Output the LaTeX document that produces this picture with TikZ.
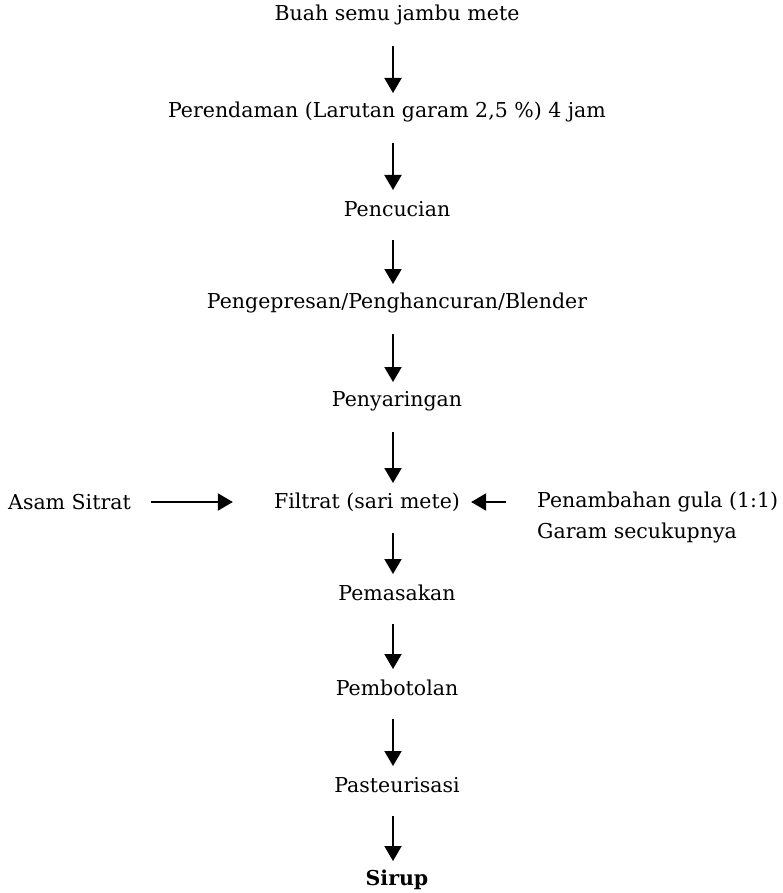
\documentclass[tikz,border=0pt]{standalone}
\usepackage{fontspec}
\setmainfont{DejaVu Serif}
\usetikzlibrary{arrows.meta}

\begin{document}
\begin{tikzpicture}[x=1pt, y=-1pt,
    every node/.style={inner sep=0pt, font=\fontsize{20.5}{24}\selectfont},
    arr/.style={-{Triangle[width=17pt, length=15pt]}, line width=2pt}]
    \useasboundingbox (0,0) rectangle (782,893);
    \coordinate (axis) at (393,0);
    % main flow
    \node (buah)   at (397,15)  {Buah semu jambu mete};
    \node (rendam) at (387,112) {Perendaman (Larutan garam 2,5 \%) 4 jam};
    \node (cuci)   at (397,209) {Pencucian};
    \node (pres)   at (397,303) {Pengepresan/Penghancuran/Blender};
    \node (saring) at (397,401) {Penyaringan};
    \node (filtrat) at (367,502) {Filtrat (sari mete)};
    \node (masak)  at (397,593) {Pemasakan};
    \node (botol)  at (397,688) {Pembotolan};
    \node (pasteur) at (397,785) {Pasteurisasi};
    \node (sirup)  at (397,880) {\bfseries Sirup};
    % side inputs
    \node[anchor=west] (asam) at (8,502) {Asam Sitrat};
    \node[anchor=west] (gula) at (537,502) {Penambahan gula (1:1)};
    \node[anchor=west] (garam) at (537,533) {Garam secukupnya};
    \foreach \a/\b in {buah/rendam, rendam/cuci, cuci/pres, pres/saring,
        saring/filtrat, filtrat/masak, masak/botol, botol/pasteur, pasteur/sirup}
        \draw[arr] ([yshift=-31pt]axis |- \a.center) -- ([yshift=19pt]axis |- \b.center);
    \draw[arr, shorten <=20pt, shorten >=41pt] (asam.east) -- (filtrat.west);
    \draw[arr, shorten <=31pt, shorten >=11pt] (gula.west) -- (filtrat.east);
\end{tikzpicture}
\end{document}
